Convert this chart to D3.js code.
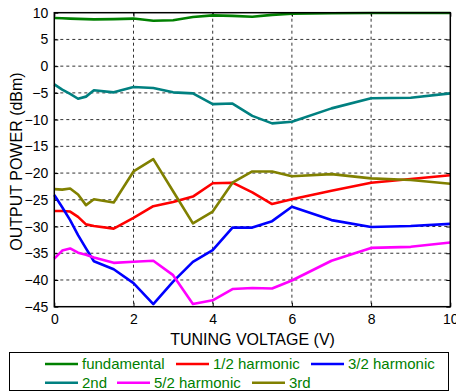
<!DOCTYPE html>
<html>
<head>
<meta charset="utf-8">
<script src="https://cdn.jsdelivr.net/npm/d3@7"></script>
<style>
  body { margin: 0; background: #fff; }
  text { font-family: Arial, "Liberation Sans", sans-serif; }
</style>
</head>
<body>
<div id="chart"></div>
<script>
/* DATA */
const voltage = [0, 0.2, 0.4, 0.6, 0.8, 1, 1.5, 2, 2.5, 3, 3.5, 4, 4.5, 5, 5.5, 6, 7, 8, 9, 10];
const fundamental = [9.0, 8.95, 8.9, 8.85, 8.8, 8.75, 8.8, 8.9, 8.5, 8.6, 9.2, 9.5, 9.4, 9.25, 9.6, 9.8, 9.9, 9.95, 9.95, 9.95];
const halfHarm = [-27.1, -27.1, -27.2, -28.2, -29.6, -29.9, -30.4, -28.4, -26.2, -25.4, -24.4, -21.9, -21.8, -23.6, -25.8, -24.9, -23.3, -21.8, -21.1, -20.4];
const threeHalfHarm = [-24.1, -26.4, -28.8, -31.6, -34.1, -36.5, -38.0, -40.6, -44.5, -40.3, -36.6, -34.4, -30.2, -30.2, -29.0, -26.3, -28.8, -30.1, -29.9, -29.5];
const second = [-3.4, -4.4, -5.2, -6.1, -5.7, -4.5, -4.9, -3.9, -4.1, -4.9, -5.1, -7.1, -7.0, -9.3, -10.7, -10.4, -7.9, -6.0, -5.9, -5.1];
const fiveHalfHarm = [-36.0, -34.5, -34.1, -34.9, -35.3, -35.8, -36.8, -36.6, -36.4, -39.1, -44.5, -43.8, -41.7, -41.5, -41.6, -40.1, -36.4, -34.0, -33.8, -33.0];
const third = [-23.0, -23.1, -22.9, -24.0, -26.0, -24.9, -25.5, -19.7, -17.4, -23.4, -29.4, -27.2, -21.8, -19.7, -19.7, -20.6, -20.2, -21.0, -21.3, -22.0];

const xTicks = [0, 2, 4, 6, 8, 10];
const yTicks = [10, 5, 0, -5, -10, -15, -20, -25, -30, -35, -40, -45];

const series = [
  { name: "fundamental", values: fundamental, color: "#008000" },
  { name: "1/2 harmonic", values: halfHarm, color: "#ff0000" },
  { name: "3/2 harmonic", values: threeHalfHarm, color: "#0000ff" },
  { name: "2nd", values: second, color: "#008080" },
  { name: "5/2 harmonic", values: fiveHalfHarm, color: "#ff00ff" },
  { name: "3rd", values: third, color: "#808000" }
];

/* LAYOUT */
const width = 456, height = 392;
const plot = { left: 54.3, right: 450.3, top: 12.7, bottom: 306.7 };

const svg = d3.select("#chart").append("svg")
  .attr("width", width)
  .attr("height", height);

const xScale = d3.scaleLinear().domain([0, 10]).range([plot.left, plot.right]);
const yScale = d3.scaleLinear().domain([-45, 10]).range([plot.bottom, plot.top]);

// grid
svg.append("g")
  .selectAll("line")
  .data(xTicks.filter(d => d > 0 && d < 10))
  .join("line")
  .attr("x1", d => xScale(d)).attr("x2", d => xScale(d))
  .attr("y1", plot.top).attr("y2", plot.bottom)
  .attr("stroke", "#333").attr("stroke-dasharray", "3,3");

svg.append("g")
  .selectAll("line")
  .data(yTicks.filter(d => d > -45 && d < 10))
  .join("line")
  .attr("x1", plot.left).attr("x2", plot.right)
  .attr("y1", d => yScale(d)).attr("y2", d => yScale(d))
  .attr("stroke", "#333").attr("stroke-dasharray", "3,3");

// axes
const xAxis = d3.axisBottom(xScale).tickValues(xTicks).tickSize(-4).tickPadding(7).tickFormat(d3.format("d"));
const yAxis = d3.axisLeft(yScale).tickValues(yTicks).tickSize(-4).tickPadding(6).tickFormat(d3.format("d"));

svg.append("g")
  .attr("transform", `translate(0,${plot.bottom})`)
  .call(xAxis)
  .call(g => g.select(".domain").remove())
  .call(g => g.selectAll("text").attr("font-size", 14).attr("fill", "#000").attr("font-family", "Arial, 'Liberation Sans', sans-serif"));

svg.append("g")
  .attr("transform", `translate(${plot.left},0)`)
  .call(yAxis)
  .call(g => g.select(".domain").remove())
  .call(g => g.selectAll("text").attr("font-size", 14).attr("fill", "#000").attr("font-family", "Arial, 'Liberation Sans', sans-serif"));

// ticks on top and right
svg.append("g")
  .attr("transform", `translate(0,${plot.top})`)
  .call(d3.axisTop(xScale).tickValues(xTicks).tickSize(-4).tickFormat(""))
  .call(g => g.select(".domain").remove());
svg.append("g")
  .attr("transform", `translate(${plot.right},0)`)
  .call(d3.axisRight(yScale).tickValues(yTicks).tickSize(-4).tickFormat(""))
  .call(g => g.select(".domain").remove());

// lines
const line = d3.line()
  .x((d, i) => xScale(voltage[i]))
  .y(d => yScale(d));

svg.append("g")
  .selectAll("path")
  .data(series)
  .join("path")
  .attr("fill", "none")
  .attr("stroke", d => d.color)
  .attr("stroke-width", 2.6)
  .attr("stroke-linejoin", "round")
  .attr("d", d => line(d.values));

// frame
svg.append("rect")
  .attr("x", plot.left).attr("y", plot.top)
  .attr("width", plot.right - plot.left).attr("height", plot.bottom - plot.top)
  .attr("fill", "none").attr("stroke", "#000").attr("stroke-width", 1.5);

// axis labels
svg.append("text")
  .attr("x", 252.5).attr("y", 345)
  .attr("text-anchor", "middle")
  .attr("font-size", 16)
  .text("TUNING VOLTAGE (V)");

svg.append("text")
  .attr("transform", "translate(22,161.5) rotate(-90)")
  .attr("text-anchor", "middle")
  .attr("font-size", 16)
  .text("OUTPUT POWER (dBm)");

// legend
const legend = svg.append("g");
legend.append("rect")
  .attr("x", 9.5).attr("y", 352.5)
  .attr("width", 439).attr("height", 38)
  .attr("fill", "#fff").attr("stroke", "#000").attr("stroke-width", 1);

const legendPos = [
  { x: 45, y: 364 }, { x: 176, y: 364 }, { x: 311, y: 364 },
  { x: 45, y: 382.7 }, { x: 117, y: 382.7 }, { x: 252, y: 382.7 }
];

const items = legend.selectAll("g.item")
  .data(series)
  .join("g")
  .attr("class", "item")
  .attr("transform", (d, i) => `translate(${legendPos[i].x},${legendPos[i].y})`);

items.append("line")
  .attr("x1", 0).attr("x2", 33)
  .attr("stroke", d => d.color)
  .attr("stroke-width", 2.6);

items.append("text")
  .attr("x", 37).attr("y", 5.3)
  .attr("font-size", 15)
  .attr("fill", "#008000")
  .text(d => d.name);
</script>
</body>
</html>
